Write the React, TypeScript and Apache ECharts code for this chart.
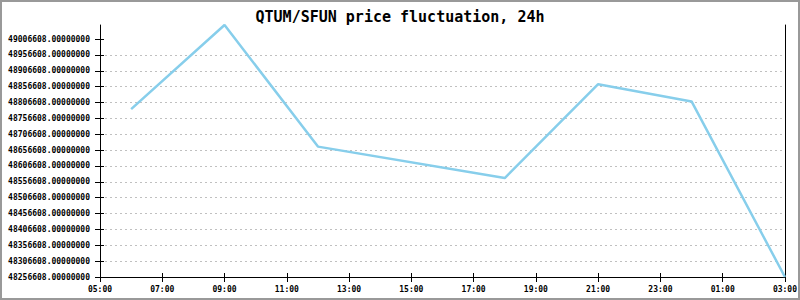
import React, { useEffect, useRef } from 'react';
import * as echarts from 'echarts';

const TITLE = 'QTUM/SFUN price fluctuation, 24h';
const times = ['06:00', '09:00', '12:00', '18:00', '21:00', '00:00', '03:00'];
const prices = [48785742, 49051000, 48667632, 48568419, 48864482, 48809994, 48256608];
const xTickLabels = ['05:00', '07:00', '09:00', '11:00', '13:00', '15:00', '17:00', '19:00', '21:00', '23:00', '01:00', '03:00'];
const yTickValues = [
  48256608, 48306608, 48356608, 48406608, 48456608, 48506608, 48556608, 48606608,
  48656608, 48706608, 48756608, 48806608, 48856608, 48906608, 48956608, 49006608,
];

const START_HOUR = 5;
const hourOffset = (t: string) => (parseInt(t.slice(0, 2), 10) - START_HOUR + 24) % 24;

export default function App() {
  const ref = useRef<HTMLDivElement>(null);
  useEffect(() => {
    const chart = echarts.init(ref.current!, null, { renderer: 'svg' });
    const font = '"DejaVu Sans Mono", "Liberation Mono", monospace';
    const labelStyle = { fontFamily: font, fontSize: 8, fontWeight: 'bold' as const, color: '#000' };
    const yMin = Math.min(...prices);
    const yMax = Math.max(...prices);
    const xMax = (xTickLabels.length - 1) * 2;
    const axisLine = { show: true, lineStyle: { color: '#000', width: 1 } };
    chart.setOption({
      animation: false,
      backgroundColor: '#fff',
      title: {
        text: TITLE,
        left: 'center',
        top: 4,
        textStyle: { fontFamily: font, fontSize: 15, fontWeight: 'bold', color: '#000' },
      },
      grid: { left: 100, right: 15, top: 25, bottom: 23, containLabel: false },
      xAxis: [
        {
          type: 'value',
          min: 0,
          max: xMax,
          interval: 2,
          position: 'bottom',
          axisLine,
          axisTick: { show: true, length: 5, lineStyle: { color: '#000' } },
          axisLabel: {
            ...labelStyle,
            margin: 8,
            formatter: (v: number) => xTickLabels[Math.round(v / 2)] ?? '',
          },
          splitLine: { show: false },
        },
        {
          type: 'value',
          min: 0,
          max: xMax,
          interval: 2,
          position: 'bottom',
          axisLine: { show: false },
          axisTick: { show: true, inside: true, length: 4, lineStyle: { color: '#000' } },
          axisLabel: { show: false },
          splitLine: { show: false },
        },
      ],
      yAxis: [
        {
          type: 'value',
          min: yMin,
          max: yMax,
          position: 'left',
          axisLine,
          axisTick: { show: true, length: 5, lineStyle: { color: '#000' }, customValues: yTickValues },
          axisLabel: {
            ...labelStyle,
            margin: 10,
            customValues: yTickValues,
            formatter: (v: number) => v.toFixed(8),
          },
          splitLine: {
            show: true,
            showMaxLine: false,
            showMinLine: false,
            lineStyle: { color: '#c0c0c0', type: [2, 3], width: 1 },
          },
        },
        {
          type: 'value',
          min: yMin,
          max: yMax,
          position: 'left',
          axisLine: { show: false },
          axisTick: { show: true, inside: true, length: 4, lineStyle: { color: '#000' }, customValues: yTickValues },
          axisLabel: { show: false, customValues: yTickValues },
          splitLine: { show: false },
        },
        {
          type: 'value',
          min: yMin,
          max: yMax,
          position: 'right',
          axisLine,
          axisTick: { show: false },
          axisLabel: { show: false },
          splitLine: { show: false },
        },
      ],
      series: [
        {
          type: 'line',
          xAxisIndex: 0,
          yAxisIndex: 0,
          data: times.map((t, i) => [hourOffset(t), prices[i]]),
          showSymbol: false,
          symbol: 'none',
          lineStyle: { color: '#87ceeb', width: 2.5 },
          z: 5,
        },
      ],
      graphic: [
        {
          type: 'rect',
          shape: { x: 1, y: 1, width: 798, height: 298 },
          style: { fill: 'none', stroke: '#999', lineWidth: 2 },
          silent: true,
        },
      ],
    });
    return () => chart.dispose();
  }, []);
  return <div ref={ref} style={{ position: 'absolute', left: 0, top: 0, width: 800, height: 300 }} />;
}
